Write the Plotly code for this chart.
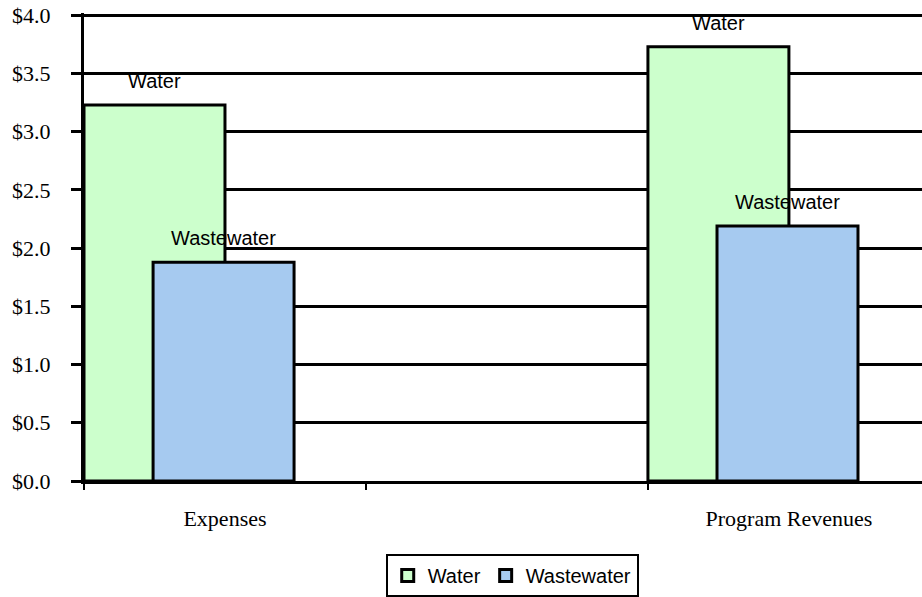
import plotly.graph_objects as go

categories = ["Expenses", " ", "Program Revenues"]
data_categories = ["Expenses", "Program Revenues"]
water = [3.23, 3.73]
wastewater = [1.88, 2.19]
series_names = ["Water", "Wastewater"]
colors = ["#CCFFCC", "#A6CAF0"]

bar_width = 0.5
offsets = [-0.5, -0.255]

fig = go.Figure()
for name, vals, col, off in zip(series_names, [water, wastewater], colors, offsets):
    fig.add_trace(go.Bar(
        name=name, x=data_categories, y=vals,
        width=bar_width, offset=off,
        marker=dict(color=col, line=dict(color="black", width=3)),
    ))

annotations = []
for name, vals, off in zip(series_names, [water, wastewater], offsets):
    for cat, v in zip(data_categories, vals):
        idx = categories.index(cat)
        annotations.append(dict(
            x=idx + off + bar_width / 2, y=v, xref="x", yref="y",
            text=name, showarrow=False, yshift=24,
            font=dict(family="Liberation Sans, Arial", size=20, color="black"),
        ))

fig.update_layout(
    template="none",
    width=922, height=597,
    margin=dict(l=84, r=0, t=13, b=112),
    paper_bgcolor="white", plot_bgcolor="white",
    barmode="overlay",
    annotations=annotations,
    showlegend=True,
    legend=dict(
        orientation="h", x=0.511, xanchor="center", y=-0.157, yanchor="top",
        bordercolor="black", borderwidth=2,
        font=dict(family="Liberation Sans, Arial", size=20, color="black"),
        itemwidth=30, tracegroupgap=0,
    ),
    xaxis=dict(
        type="category", categoryorder="array", categoryarray=categories,
        range=[-0.5, 2.472], tickson="boundaries", automargin=False,
        ticks="outside", ticklen=6, tickwidth=2, tickcolor="black",
        showline=True, linecolor="black", linewidth=3,
        showgrid=False, ticklabelstandoff=16,
        tickfont=dict(family="Liberation Serif, Times New Roman", size=22, color="black"),
    ),
    yaxis=dict(
        range=[0, 4.02], tickmode="linear", tick0=0, dtick=0.5,
        tickprefix="$", tickformat=".1f", automargin=False,
        ticks="outside", ticklen=10, tickwidth=3, tickcolor="black",
        showline=True, linecolor="black", linewidth=3,
        showgrid=True, gridcolor="black", gridwidth=3, zeroline=False,
        ticklabelstandoff=16, ticklabeloverflow="allow",
        tickfont=dict(family="Liberation Serif, Times New Roman", size=22, color="black"),
    ),
)

fig.write_html("out.html", config={"displayModeBar": False},
               post_script="document.body.style.margin='0';")
